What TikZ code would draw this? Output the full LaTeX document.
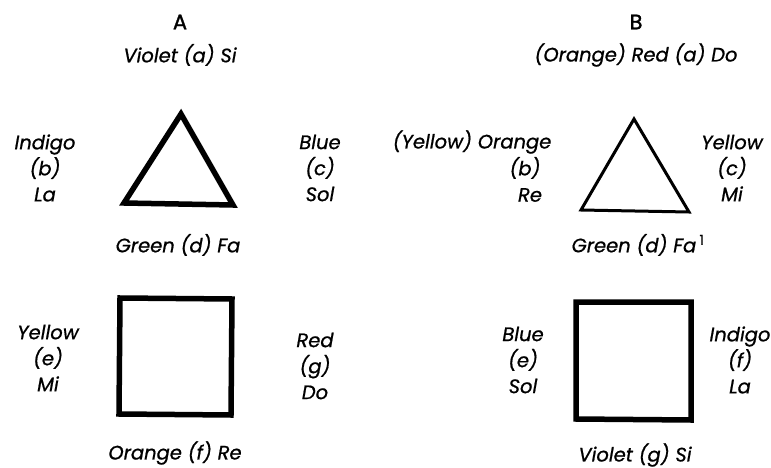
\documentclass[tikz,border=0pt]{standalone}
\usepackage{fontspec}
\setmainfont{Poppins}[ItalicFeatures={FakeBold=0.8},UprightFeatures={FakeBold=1.4}]
\begin{document}
\begin{tikzpicture}[x=1pt,y=-1pt,
  lbl/.style={font=\fontsize{19.5}{26}\selectfont\itshape, inner sep=0pt, align=center},
  head/.style={font=\fontsize{21}{22}\selectfont, inner sep=0pt},
  thickshape/.style={line width=5.5pt, line join=miter},
  thinshape/.style={line width=3pt, line join=miter}]
\useasboundingbox (0,0) rectangle (771,468);
% ---- A ----
\node[head] (A) at (180,22) {A};
\node[lbl] (Aa) at (180,55) {Violet (a) Si};
\node[lbl] (Ab) at (45,168) {Indigo\\(b)\\La};
\node[lbl] (Ac) at (320,168) {Blue\\(c)\\Sol};
\node[lbl] (Ad) at (178,245) {Green (d) Fa};
\draw[thickshape] (181,114) -- (124,203) -- (233,205) -- cycle;
\draw[thickshape] (120,298) -- (232,299) -- (231,415) -- (119,414) -- cycle;
\node[lbl] (Ae) at (48,358) {Yellow\\(e)\\Mi};
\node[lbl] (Ag) at (315,366) {Red\\(g)\\Do};
\node[lbl] (Af) at (175,453) {Orange (f) Re};
% ---- B ----
\node[head] (B) at (636,22) {B};
\node[lbl] (Ba) at (636,55) {(Orange) Red (a) Do};
\node[lbl] (Bb1) at (472,142) {(Yellow) Orange};
\node[lbl] (Bb2) at (525,168) {(b)};
\node[lbl] (Bb3) at (530,195) {Re};
\node[lbl] (Bc) at (732,168) {Yellow\\(c)\\Mi};
\draw[thinshape] (634,119) -- (581,210) -- (689,212) -- cycle;
\node[lbl] (Bd) at (638,245) {Green (d) Fa\,\textsuperscript{\upshape 1}};
\draw[thickshape] (576,302) -- (691,302) -- (691,420) -- (576,419) -- cycle;
\node[lbl] (Be) at (523,360) {Blue\\(e)\\Sol};
\node[lbl] (Bf) at (740,360) {Indigo\\(f)\\La};
\node[lbl] (Bg) at (635,455) {Violet (g) Si};
\end{tikzpicture}
\end{document}
